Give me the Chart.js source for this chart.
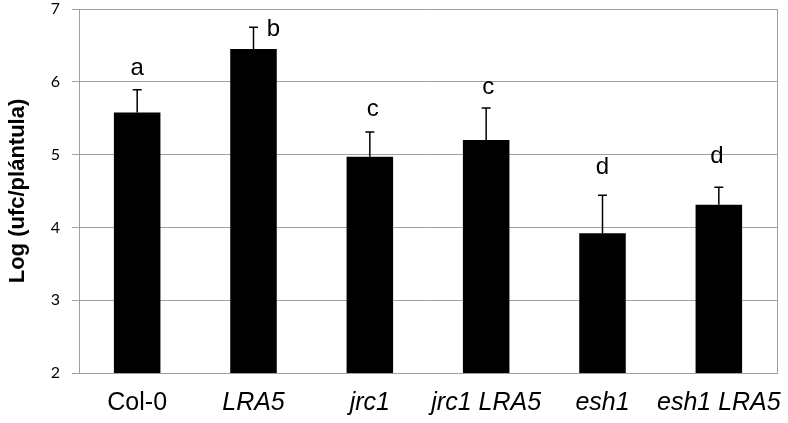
<!DOCTYPE html>
<html>
<head>
<meta charset="utf-8">
<script src="https://cdn.jsdelivr.net/npm/chart.js@4"></script>
<style>
  html, body { margin: 0; padding: 0; background: #fff; }
  #wrap { width: 788px; height: 423px; }
</style>
</head>
<body>
<div id="wrap"><canvas id="chart"></canvas></div>
<script>
const categories = ["Col-0", "LRA5", "jrc1", "jrc1 LRA5", "esh1", "esh1 LRA5"];
const means = [5.58, 6.45, 4.97, 5.20, 3.92, 4.31];
const errors = [0.31, 0.30, 0.34, 0.44, 0.52, 0.24];
const letters = ["a", "b", "c", "c", "d", "d"];
const letterLevels = [6.19, 6.72, 5.62, 5.93, 4.83, 4.97];
const yTicks = [2, 3, 4, 5, 6, 7];

// small horizontal nudges so letters sit where they do in the figure
const letterShift = [0, 20, 3, 2, 0, -2];

const gridGray = "#a0a0a0";

const errorBars = {
  id: "errorBars",
  afterDatasetsDraw(chart) {
    const { ctx, scales: { x, y } } = chart;
    ctx.save();
    ctx.strokeStyle = "#000";
    ctx.lineWidth = 1.5;
    means.forEach((m, i) => {
      const cx = x.getPixelForValue(i);
      const yTop = y.getPixelForValue(m + errors[i]);
      const yBase = y.getPixelForValue(m);
      ctx.beginPath();
      ctx.moveTo(cx, yBase);
      ctx.lineTo(cx, yTop);
      ctx.moveTo(cx - 4.5, yTop);
      ctx.lineTo(cx + 4.5, yTop);
      ctx.stroke();
    });

    ctx.fillStyle = "#000";
    ctx.font = "24px 'Liberation Sans', Arial, sans-serif";
    ctx.textAlign = "center";
    ctx.textBaseline = "middle";
    letters.forEach((t, i) => {
      ctx.fillText(t, x.getPixelForValue(i) + letterShift[i], y.getPixelForValue(letterLevels[i]));
    });

    // right frame line
    const a = chart.chartArea;
    ctx.strokeStyle = gridGray;
    ctx.lineWidth = 1;
    ctx.beginPath();
    ctx.moveTo(Math.round(a.right) + 0.5, a.top);
    ctx.lineTo(Math.round(a.right) + 0.5, a.bottom);
    ctx.stroke();
    ctx.restore();
  }
};

new Chart(document.getElementById("chart"), {
  type: "bar",
  data: {
    labels: categories,
    datasets: [{
      data: means,
      backgroundColor: "#000",
      borderWidth: 0,
      barPercentage: 0.4,
      categoryPercentage: 1.0
    }]
  },
  options: {
    responsive: true,
    maintainAspectRatio: false,
    animation: false,
    layout: { padding: { top: 9, right: 11, left: 0, bottom: 0 } },
    plugins: {
      legend: { display: false },
      tooltip: { enabled: false }
    },
    scales: {
      x: {
        grid: { display: false, drawTicks: false },
        border: { display: true, color: gridGray, width: 1 },
        ticks: {
          color: "#000",
          padding: 15,
          maxRotation: 0,
          autoSkip: false,
          font: (c) => ({
            family: "'Liberation Sans', Arial, sans-serif",
            size: 25,
            style: c.index === 0 ? "normal" : "italic"
          })
        },
        afterFit(scale) {
          scale.height = 50;
          scale.paddingLeft = 0;
          scale.paddingRight = 0;
        }
      },
      y: {
        min: 2,
        max: 7,
        afterBuildTicks(scale) { scale.ticks = yTicks.map(v => ({ value: v })); },
        grid: { color: gridGray, lineWidth: 1, tickLength: 7, drawTicks: true },
        border: { display: true, color: gridGray, width: 1 },
        ticks: {
          color: "#000",
          padding: 12,
          font: { family: "Lato, 'Open Sans', sans-serif", size: 16 }
        },
        title: {
          display: true,
          text: "Log (ufc/plántula)",
          color: "#000",
          padding: { top: 5, bottom: 0 },
          font: { family: "'Liberation Sans', Arial, sans-serif", size: 22, weight: "bold" }
        },
        afterFit(scale) {
          scale.width = 79;
          scale.paddingTop = 0;
          scale.paddingBottom = 0;
        }
      }
    }
  },
  plugins: [errorBars]
});
</script>
</body>
</html>
